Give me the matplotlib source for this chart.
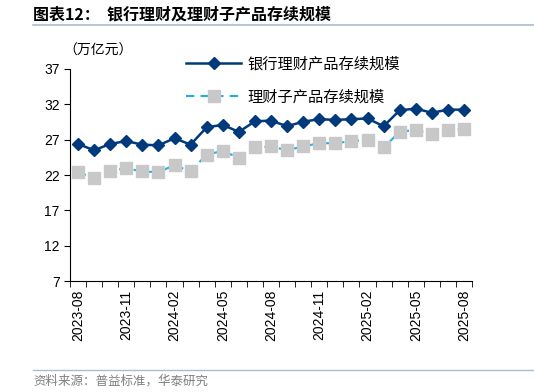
import matplotlib.pyplot as plt
import numpy as np

plt.rcParams['font.family'] = ['Liberation Sans', 'Noto Sans CJK SC', 'DejaVu Sans']

# Data (万亿元)
months = ["2023-08", "2023-09", "2023-10", "2023-11", "2023-12", "2024-01", "2024-02",
          "2024-03", "2024-04", "2024-05", "2024-06", "2024-07", "2024-08", "2024-09",
          "2024-10", "2024-11", "2024-12", "2025-01", "2025-02", "2025-03", "2025-04",
          "2025-05", "2025-06", "2025-07", "2025-08"]
bank_wm = [26.4, 25.5, 26.4, 26.8, 26.3, 26.2, 27.2, 26.3, 28.75, 29.1, 28.1, 29.6, 29.7,
           28.9, 29.55, 29.9, 29.8, 29.9, 30.0, 28.9, 31.15, 31.4, 30.8, 31.25, 31.25]
sub_wm = [22.4, 21.6, 22.6, 22.95, 22.5, 22.4, 23.4, 22.5, 24.9, 25.4, 24.45, 25.9, 26.05,
          25.5, 26.05, 26.5, 26.5, 26.8, 27.0, 25.9, 28.1, 28.4, 27.75, 28.4, 28.5]
label_bank = "银行理财产品存续规模"
label_sub = "理财子产品存续规模"

cjk = ['Noto Sans CJK SC', 'DejaVu Sans']

fig = plt.figure(figsize=(5.34, 3.92), dpi=100)
ax = fig.add_axes([0.131, 0.283, 0.753, 0.541])

x = np.arange(len(months))
ax.plot(x, bank_wm, color="#003A7D", lw=1.8, marker="D", markersize=6.5, label=label_bank)
ax.plot(x, sub_wm, color="#1AAFE6", lw=1.5, ls=(0, (4, 3)), marker="s", markersize=8.5,
        markerfacecolor="#C8C8C8", markeredgecolor="#C8C8C8", label=label_sub)

ax.set_xlim(-0.5, len(months) - 0.5)
ax.set_ylim(7, 37)
ax.set_yticks([7, 12, 17, 22, 27, 32, 37])
ax.set_xticks(x[::3])
ax.set_xticklabels(months[::3], rotation=90, fontsize=10)
ax.set_xticks(np.arange(-0.5, len(months)), minor=True)
ax.tick_params(axis="x", which="major", length=0, pad=6)
ax.tick_params(axis="x", which="minor", length=4, direction="out")
ax.tick_params(axis="y", labelsize=10, length=4, direction="out")
for s in ["top", "right"]:
    ax.spines[s].set_visible(False)

fig.text(0.118, 0.872, "（万亿元）", fontsize=10, family=cjk, ha="left", va="center")

leg = ax.legend(loc="upper left", bbox_to_anchor=(0.255, 1.13), frameon=False,
                prop={'family': cjk, 'size': 11},
                handlelength=3.6, handletextpad=0.4, labelspacing=1.05)

fig.text(0.062, 0.963, "图表12：  银行理财及理财子产品存续规模", fontsize=11.5, weight="bold",
         family=cjk, va="center")
fig.add_artist(plt.Line2D([0.062, 1.0], [0.935, 0.935], color="#A9BCD0", lw=1.2))
fig.add_artist(plt.Line2D([0.062, 1.0], [0.057, 0.057], color="#A9BCD0", lw=1.0))
fig.text(0.062, 0.028, "资料来源：普益标准，华泰研究", fontsize=9, color="#808080",
         family=cjk, va="center")

fig.savefig("out.png", dpi=100)
